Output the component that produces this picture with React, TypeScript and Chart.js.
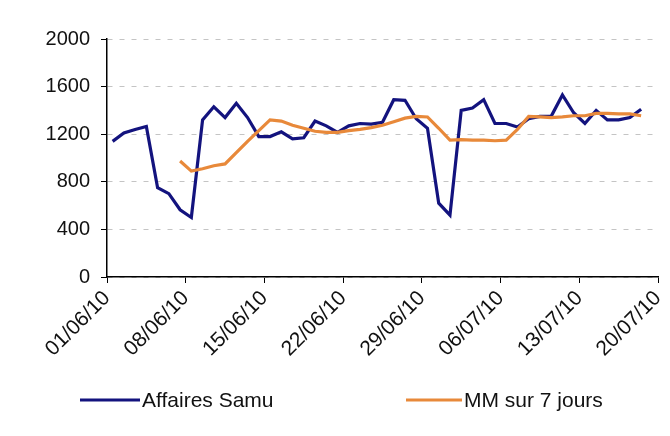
import React, { useEffect, useRef } from "react";
import { Chart, registerables } from "chart.js";

Chart.register(...registerables);

const dates = [
  "01/06/10", "02/06/10", "03/06/10", "04/06/10", "05/06/10", "06/06/10", "07/06/10",
  "08/06/10", "09/06/10", "10/06/10", "11/06/10", "12/06/10", "13/06/10", "14/06/10",
  "15/06/10", "16/06/10", "17/06/10", "18/06/10", "19/06/10", "20/06/10", "21/06/10",
  "22/06/10", "23/06/10", "24/06/10", "25/06/10", "26/06/10", "27/06/10", "28/06/10",
  "29/06/10", "30/06/10", "01/07/10", "02/07/10", "03/07/10", "04/07/10", "05/07/10",
  "06/07/10", "07/07/10", "08/07/10", "09/07/10", "10/07/10", "11/07/10", "12/07/10",
  "13/07/10", "14/07/10", "15/07/10", "16/07/10", "17/07/10", "18/07/10",
];

const samuValues = [
  1140, 1210, 1240, 1265, 750, 700, 565,
  500, 1320, 1430, 1340, 1460, 1340, 1180,
  1180, 1220, 1160, 1170, 1310, 1270, 1215,
  1270, 1290, 1285, 1300, 1490, 1485, 1330,
  1250, 620, 520, 1400, 1420, 1490, 1290,
  1290, 1260, 1330, 1350, 1350, 1530, 1380,
  1290, 1400, 1320, 1320, 1340, 1410,
];

const mmValues = [
  null, null, null, null, null, null, 975,
  890, 910, 935, 950, 1045, 1140, 1230,
  1320, 1310, 1275, 1250, 1225, 1215, 1215,
  1230, 1240, 1255, 1275, 1305, 1335, 1350,
  1345, 1250, 1150, 1155, 1150, 1150, 1145,
  1150, 1240, 1350, 1345, 1340, 1345, 1355,
  1355, 1375, 1375, 1370, 1370, 1355,
];

const xTickLabels = [
  "01/06/10", "08/06/10", "15/06/10", "22/06/10",
  "29/06/10", "06/07/10", "13/07/10", "20/07/10",
];

const seriesLabels = ["Affaires Samu", "MM sur 7 jours"];
const seriesColors = ["#13137e", "#e8893a"];

const FONT = '"Liberation Sans", Arial, sans-serif';

const legendPlugin = {
  id: "customLegend",
  afterDraw(chart: any) {
    const ctx = chart.ctx;
    const ds = chart.data.datasets;
    const items = [
      { x: 80, len: 60 },
      { x: 406, len: 56 },
    ];
    const y = 400;
    ctx.save();
    ds.forEach((d: any, i: number) => {
      const it = items[i];
      ctx.strokeStyle = d.borderColor;
      ctx.lineWidth = 3;
      ctx.beginPath();
      ctx.moveTo(it.x, y);
      ctx.lineTo(it.x + it.len, y);
      ctx.stroke();
      ctx.fillStyle = "#111";
      ctx.font = `21px ${FONT}`;
      ctx.textAlign = "left";
      ctx.textBaseline = "middle";
      ctx.fillText(d.label, it.x + it.len + 2, y + 1);
    });
    ctx.restore();
  },
};

export default function App() {
  const ref = useRef<HTMLCanvasElement | null>(null);

  useEffect(() => {
    if (!ref.current) return;
    const samuPts = samuValues.map((v, i) => ({ x: i + 0.5, y: v }));
    const mmPts = mmValues.map((v, i) => ({ x: i + 0.5, y: v }));
    const chart = new Chart(ref.current, {
      type: "line",
      data: {
        datasets: [
          {
            label: seriesLabels[0],
            data: samuPts,
            borderColor: seriesColors[0],
            backgroundColor: seriesColors[0],
            borderWidth: 3.2,
            pointRadius: 0,
            tension: 0,
            order: 1,
          },
          {
            label: seriesLabels[1],
            data: mmPts as any,
            borderColor: seriesColors[1],
            backgroundColor: seriesColors[1],
            borderWidth: 3.2,
            pointRadius: 0,
            tension: 0,
            order: 0,
          },
        ],
      },
      options: {
        animation: false,
        responsive: true,
        maintainAspectRatio: false,
        layout: { padding: { left: 0, top: 39, right: 12, bottom: 60 } },
        plugins: {
          legend: { display: false },
          tooltip: { enabled: false },
        },
        scales: {
          x: {
            type: "linear",
            min: 0,
            max: 49,
            afterFit: (s: any) => {
              s.height = 99;
              s.paddingRight = 0;
            },
            ticks: {
              stepSize: 7,
              autoSkip: false,
              maxRotation: 45,
              minRotation: 45,
              padding: 3,
              color: "#111",
              font: { family: FONT, size: 21 },
              callback: (v: any) => {
                const idx = Math.round(Number(v) / 7);
                return xTickLabels[idx] ?? "";
              },
            },
            grid: {
              display: true,
              drawOnChartArea: false,
              drawTicks: true,
              tickLength: 6,
              tickColor: "#000",
            },
            border: { display: true, color: "#000", width: 1.5 },
          },
          y: {
            min: 0,
            max: 2000,
            afterFit: (s: any) => {
              s.width = 107;
            },
            ticks: {
              stepSize: 400,
              padding: 11,
              color: "#111",
              font: { family: FONT, size: 20 },
              callback: (v: any) => String(v),
            },
            grid: {
              color: "#c4c4c4",
              lineWidth: 1,
              drawTicks: true,
              tickLength: 6,
              tickColor: "#000",
            },
            border: { display: true, color: "#000", width: 1.5, dash: [5, 7] },
          },
        },
      },
      plugins: [legendPlugin],
    });
    return () => chart.destroy();
  }, []);

  return (
    <div
      style={{
        position: "fixed",
        left: 0,
        top: 0,
        width: 670,
        height: 436,
        background: "#fff",
      }}
    >
      <canvas ref={ref} />
    </div>
  );
}
